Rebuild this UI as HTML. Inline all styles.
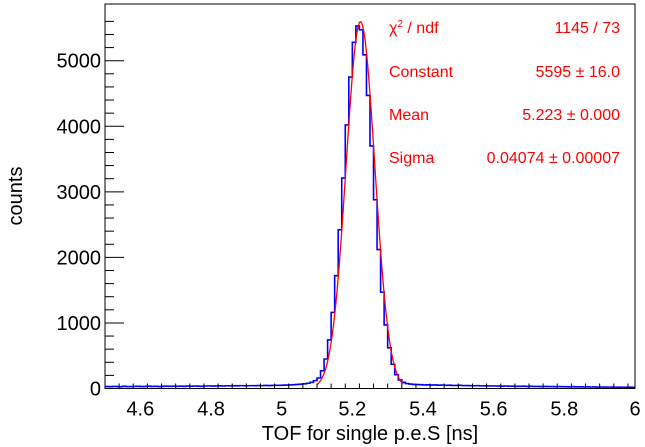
<!DOCTYPE html>
<html><head><meta charset="utf-8"><style>
body{margin:0;background:#fff;}
svg{display:block;font-family:"Liberation Sans",sans-serif;}
</style></head><body>
<svg id="c" width="645" height="447">
<rect x="0" y="0" width="645" height="447" fill="#fff"/>
<g id="plot"></g>
<g id="axes"></g>
<text x="22" y="196" font-size="20" text-anchor="middle" transform="rotate(-90 22 196)">counts</text>
<text x="370" y="440" font-size="20" text-anchor="middle">TOF for single p.e.S [ns]</text>
<g fill="#ff0000" font-size="16">
<text x="389" y="33">χ<tspan font-size="10" dy="-6">2</tspan><tspan dy="6"> / ndf</tspan></text>
<text x="620" y="33" text-anchor="end">1145 / 73</text>
<text x="389" y="77">Constant</text>
<text x="620" y="77" text-anchor="end">5595 ± 16.0</text>
<text x="389" y="120">Mean</text>
<text x="620" y="120" text-anchor="end">5.223 ± 0.000</text>
<text x="389" y="163">Sigma</text>
<text x="620" y="163" text-anchor="end">0.04074 ± 0.00007</text>
</g>
</svg>
<script>
const binStart = 4.5;
const binWidth = 0.01;
const counts = [
30,28,32,30,27,33,30,29,31,34,
30,32,35,31,33,30,34,36,33,35,
34,36,33,37,35,38,36,34,38,40,
37,39,41,38,42,40,43,41,44,42,
42,44,43,45,44,46,45,47,48,48,
50,52,55,58,62,66,72,80,95,120,
160,270,450,740,1160,1720,2420,3210,4020,4750,
5280,5530,5470,5090,4470,3700,2880,2120,1470,970,
620,370,210,130,95,75,68,62,60,58,
55,56,52,54,50,52,48,50,47,46,
48,44,45,43,42,44,40,41,39,40,
38,37,36,38,35,36,34,33,35,32,
33,31,32,30,31,29,30,28,29,27,
28,26,27,25,26,24,25,23,24,22,
23,22,21,22,21,20,21,19,20,19];
const fitParams = [5595, 5.223, 0.04074];
const fitRange = [5.10, 5.345];
const xTicks = [4.6,4.8,5,5.2,5.4,5.6,5.8,6];
const xTickLabels = ["4.6","4.8","5","5.2","5.4","5.6","5.8","6"];
const yTicks = [0,1000,2000,3000,4000,5000];
const yTickLabels = ["0","1000","2000","3000","4000","5000"];

const L=105,R=635,T=4,B=388.5;
const X=v=>L+(v-4.5)/(6-4.5)*(R-L);
const Y=v=>B-v*(B-60.7)/5000;
const NS="http://www.w3.org/2000/svg";
function mk(tag,attrs,parent){const e=document.createElementNS(NS,tag);for(const k in attrs)e.setAttribute(k,attrs[k]);parent.appendChild(e);return e;}
const plot=document.getElementById('plot'), axes=document.getElementById('axes');

let d="M"+X(binStart)+","+Y(counts[0]);
counts.forEach((c,i)=>{const x0=X(binStart+i*binWidth),x1=X(binStart+(i+1)*binWidth);d+=" L"+x0+","+Y(c)+" L"+x1+","+Y(c);});
const h=mk('path',{d:d,fill:'none',stroke:'#0000ff','stroke-width':1.6},plot);



let fd="";
for(let x=fitRange[0];x<=fitRange[1]+1e-9;x+=0.002){const v=fitParams[0]*Math.exp(-0.5*Math.pow((x-fitParams[1])/fitParams[2],2));fd+=(fd?" L":"M")+X(x).toFixed(2)+","+Y(v).toFixed(2);}
const f=mk('path',{d:fd,fill:'none',stroke:'#ff0000','stroke-width':1.3},plot);



const fr=mk('rect',{x:L,y:T,width:R-L,height:B-T,fill:'none',stroke:'#000','stroke-width':1},axes);



for(let v=4.5;v<=6.0001;v+=0.04){const big=Math.abs(v*5-Math.round(v*5))<1e-6;mk('line',{x1:X(v),x2:X(v),y1:B,y2:B-(big?9:5),stroke:'#000','stroke-width':1},axes);}
xTicks.forEach((v,i)=>{const t=mk('text',{x:X(v),y:B+27,'font-size':20,'text-anchor':'middle'},axes);t.textContent=xTickLabels[i];

});
for(let v=0;v<=5700;v+=200){const big=v%1000===0;mk('line',{x1:L,x2:L+(big?19:9),y1:Y(v),y2:Y(v),stroke:'#000','stroke-width':1},axes);}
yTicks.forEach((v,i)=>{const t=mk('text',{x:L-4,y:Y(v)+7,'font-size':20,'text-anchor':'end'},axes);t.textContent=yTickLabels[i];

});
</script>
</body></html>
